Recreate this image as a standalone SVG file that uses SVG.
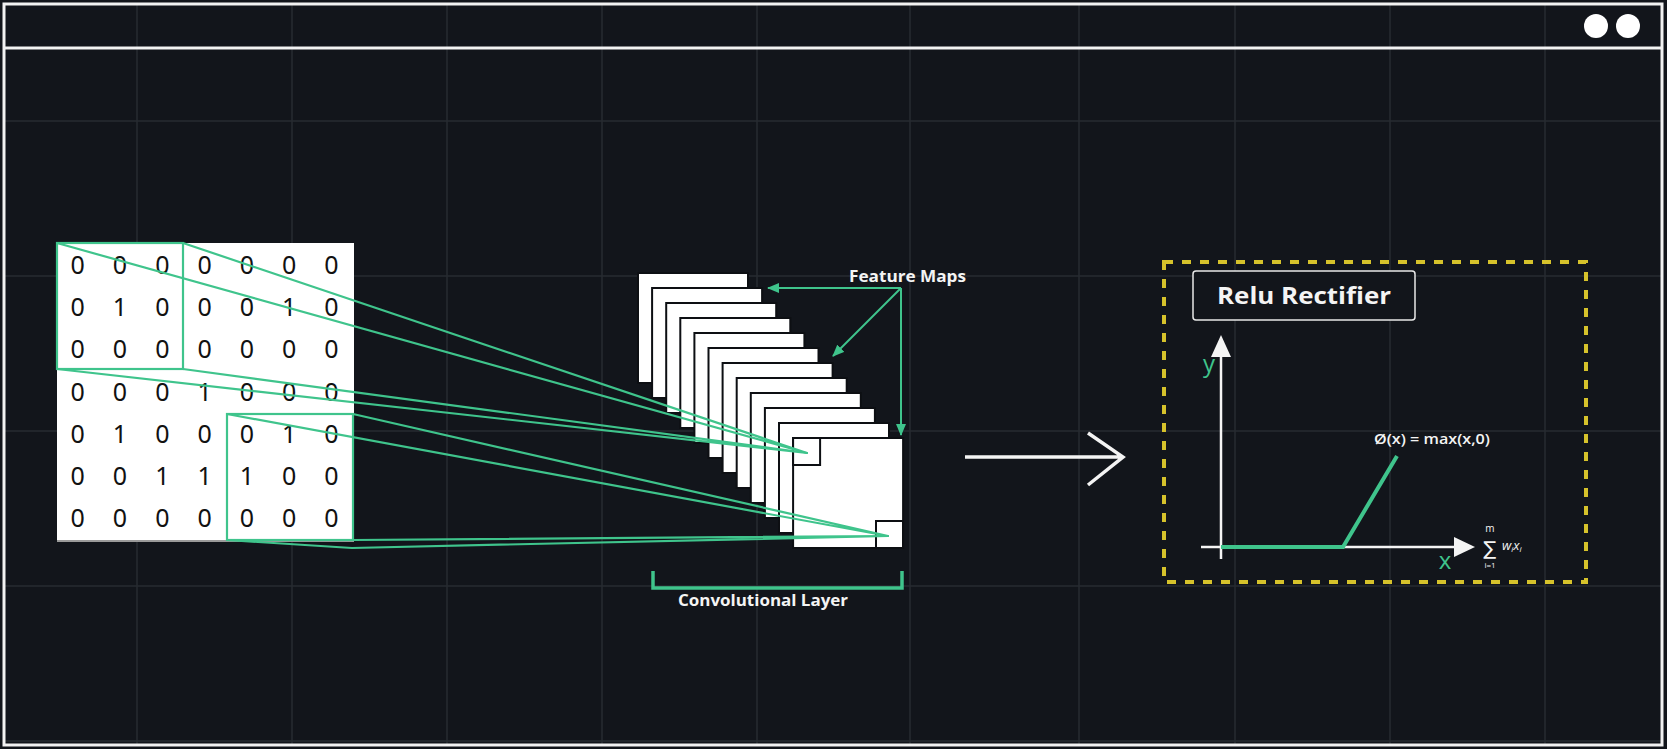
<svg xmlns="http://www.w3.org/2000/svg" width="1667" height="749" viewBox="0 0 1667 749">
<defs>
<style>
.grid{stroke:#272b32;stroke-width:1.5}
.frame{fill:none;stroke:#f2f2f2;stroke-width:3}
.dig{font-family:"Noto Sans","Liberation Sans",sans-serif;font-size:25px;fill:#111;text-anchor:middle}
.win{fill:none;stroke:#3fc48c;stroke-width:2.2}
.link{fill:none;stroke:#3fc48c;stroke-width:2.2;stroke-linejoin:round}
.sheet{fill:#fff;stroke:#0d0f13;stroke-width:2}
.lbl{font-family:"Open Sans","Liberation Sans",sans-serif;font-weight:700;fill:#f4f4f4}
.garrow{fill:none;stroke:#3fc48c;stroke-width:2}
.white{stroke:#f4f4f4;fill:none}
</style>
<marker id="gh" markerWidth="12" markerHeight="10" refX="11" refY="5" orient="auto" markerUnits="userSpaceOnUse">
<path d="M0,0 L12,5 L0,10 Z" fill="#3fc48c"/>
</marker>
</defs>
<rect width="1667" height="749" fill="#12151b"/>
<g id="grid">
<line class="grid" x1="137" y1="4" x2="137" y2="745"/>
<line class="grid" x1="292" y1="4" x2="292" y2="745"/>
<line class="grid" x1="447" y1="4" x2="447" y2="745"/>
<line class="grid" x1="602" y1="4" x2="602" y2="745"/>
<line class="grid" x1="757" y1="4" x2="757" y2="745"/>
<line class="grid" x1="910" y1="4" x2="910" y2="745"/>
<line class="grid" x1="1079" y1="4" x2="1079" y2="745"/>
<line class="grid" x1="1235" y1="4" x2="1235" y2="745"/>
<line class="grid" x1="1390" y1="4" x2="1390" y2="745"/>
<line class="grid" x1="1545" y1="4" x2="1545" y2="745"/>
<line class="grid" x1="4" y1="121" x2="1662" y2="121"/>
<line class="grid" x1="4" y1="276" x2="1662" y2="276"/>
<line class="grid" x1="4" y1="431" x2="1662" y2="431"/>
<line class="grid" x1="4" y1="586" x2="1662" y2="586"/>
<line class="grid" x1="4" y1="741" x2="1662" y2="741"/>
</g>
<g id="window-frame">
<rect class="frame" x="4" y="4" width="1658" height="741"/>
<line class="frame" x1="4" y1="48" x2="1662" y2="48"/>
<circle cx="1596" cy="26" r="12" fill="#fff"/>
<circle cx="1628" cy="26" r="12" fill="#fff"/>
</g>
<g id="input-matrix">
<rect x="57" y="243" width="297" height="297" fill="#fff"/>
<line x1="57" y1="541" x2="354" y2="541" stroke="#9a9a9a" stroke-width="2"/>
<text class="dig" y="274"><tspan x="77.7">0</tspan><tspan x="120">0</tspan><tspan x="162.3">0</tspan><tspan x="204.6">0</tspan><tspan x="246.9">0</tspan><tspan x="289.2">0</tspan><tspan x="331.5">0</tspan></text>
<text class="dig" y="316.2"><tspan x="77.7">0</tspan><tspan x="120">1</tspan><tspan x="162.3">0</tspan><tspan x="204.6">0</tspan><tspan x="246.9">0</tspan><tspan x="289.2">1</tspan><tspan x="331.5">0</tspan></text>
<text class="dig" y="358.4"><tspan x="77.7">0</tspan><tspan x="120">0</tspan><tspan x="162.3">0</tspan><tspan x="204.6">0</tspan><tspan x="246.9">0</tspan><tspan x="289.2">0</tspan><tspan x="331.5">0</tspan></text>
<text class="dig" y="400.6"><tspan x="77.7">0</tspan><tspan x="120">0</tspan><tspan x="162.3">0</tspan><tspan x="204.6">1</tspan><tspan x="246.9">0</tspan><tspan x="289.2">0</tspan><tspan x="331.5">0</tspan></text>
<text class="dig" y="442.8"><tspan x="77.7">0</tspan><tspan x="120">1</tspan><tspan x="162.3">0</tspan><tspan x="204.6">0</tspan><tspan x="246.9">0</tspan><tspan x="289.2">1</tspan><tspan x="331.5">0</tspan></text>
<text class="dig" y="485"><tspan x="77.7">0</tspan><tspan x="120">0</tspan><tspan x="162.3">1</tspan><tspan x="204.6">1</tspan><tspan x="246.9">1</tspan><tspan x="289.2">0</tspan><tspan x="331.5">0</tspan></text>
<text class="dig" y="527.2"><tspan x="77.7">0</tspan><tspan x="120">0</tspan><tspan x="162.3">0</tspan><tspan x="204.6">0</tspan><tspan x="246.9">0</tspan><tspan x="289.2">0</tspan><tspan x="331.5">0</tspan></text>
<rect class="win" x="57" y="243" width="126" height="126"/>
<rect class="win" x="227" y="414" width="126" height="126"/>
</g>
<g id="feature-maps">
<rect class="sheet" x="638" y="273" width="110" height="110"/>
<rect class="sheet" x="652.1" y="288" width="110" height="110"/>
<rect class="sheet" x="666.2" y="303" width="110" height="110"/>
<rect class="sheet" x="680.3" y="318" width="110" height="110"/>
<rect class="sheet" x="694.4" y="333" width="110" height="110"/>
<rect class="sheet" x="708.5" y="348" width="110" height="110"/>
<rect class="sheet" x="722.6" y="363" width="110" height="110"/>
<rect class="sheet" x="736.7" y="378" width="110" height="110"/>
<rect class="sheet" x="750.8" y="393" width="110" height="110"/>
<rect class="sheet" x="764.9" y="408" width="110" height="110"/>
<rect class="sheet" x="779" y="423" width="110" height="110"/>
<rect class="sheet" x="793.1" y="438" width="110" height="110"/>
<rect class="sheet" x="793.1" y="438" width="27" height="27"/>
<rect class="sheet" x="876" y="521" width="27" height="27"/>
</g>
<g id="connectors">
<path class="link" d="M57,243 L807,453 L183,243"/>
<path class="link" d="M57,369 L807,453 L183,369"/>
<path class="link" d="M227,414 L888,536 L353,414"/>
<path class="link" d="M227,540 L352,548 L888,536 L353,540"/>
<line class="garrow" x1="901" y1="288" x2="768" y2="288" marker-end="url(#gh)"/>
<line class="garrow" x1="901" y1="288" x2="833" y2="356" marker-end="url(#gh)"/>
<line class="garrow" x1="901" y1="288" x2="901" y2="435" marker-end="url(#gh)"/>
<path class="white" stroke-width="3.5" d="M965,457 H1122 M1088,433 L1123,457 L1088,485"/>
</g>
<g id="feature-maps-label">
<text class="lbl" x="849" y="282" font-size="16" textLength="117" lengthAdjust="spacingAndGlyphs">Feature Maps</text>
</g>
<g id="conv-layer">
<path d="M653,571 V588 H902 V571" fill="none" stroke="#3fc48c" stroke-width="3.5"/>
<text class="lbl" x="678" y="606" font-size="16" textLength="170" lengthAdjust="spacingAndGlyphs">Convolutional Layer</text>
</g>
<g id="relu-panel">
<rect x="1164" y="262" width="422" height="320" fill="none" stroke="#d6c22b" stroke-width="4" stroke-dasharray="9 9"/>
<rect x="1193" y="271" width="222" height="49" rx="3" fill="#12151b" stroke="#e8e8e8" stroke-width="1.5"/>
<text class="lbl" x="1217" y="304" font-size="24" textLength="174" lengthAdjust="spacingAndGlyphs">Relu Rectifier</text>
<line class="white" stroke-width="2.5" x1="1221" y1="559" x2="1221" y2="355"/>
<path d="M1221,335 L1231,357 L1211,357 Z" fill="#f4f4f4"/>
<line class="white" stroke-width="2.5" x1="1201" y1="547" x2="1456" y2="547"/>
<path d="M1475,547 L1454,537 L1454,557 Z" fill="#f4f4f4"/>
<polyline points="1221,547 1343,547 1397,456" fill="none" stroke="#3fc48c" stroke-width="4"/>
<text x="1209" y="372" font-family="Open Sans, Liberation Sans, sans-serif" font-size="24" fill="#3fc48c" text-anchor="middle">y</text>
<text x="1445" y="569" font-family="Open Sans, Liberation Sans, sans-serif" font-size="24" fill="#3fc48c" text-anchor="middle">x</text>
<text x="1374" y="444" font-family="Open Sans, Liberation Sans, sans-serif" font-size="15" font-weight="600" fill="#f4f4f4" textLength="116" lengthAdjust="spacingAndGlyphs">Ø(x) = max(x,0)</text>
<text x="1490" y="555" font-family="DejaVu Sans, sans-serif" font-size="19" fill="#f4f4f4" text-anchor="middle">∑</text>
<text x="1490" y="532" font-family="Open Sans, Liberation Sans, sans-serif" font-size="10" fill="#f4f4f4" text-anchor="middle">m</text>
<text x="1490" y="568" font-family="Open Sans, Liberation Sans, sans-serif" font-size="8" fill="#f4f4f4" text-anchor="middle">i=1</text>
<text x="1502" y="550" font-family="Open Sans, Liberation Sans, sans-serif" font-size="13" font-style="italic" fill="#f4f4f4">w<tspan font-size="8" dy="2">i</tspan><tspan dy="-2">x</tspan><tspan font-size="8" dy="2">i</tspan></text>
</g>
</svg>
